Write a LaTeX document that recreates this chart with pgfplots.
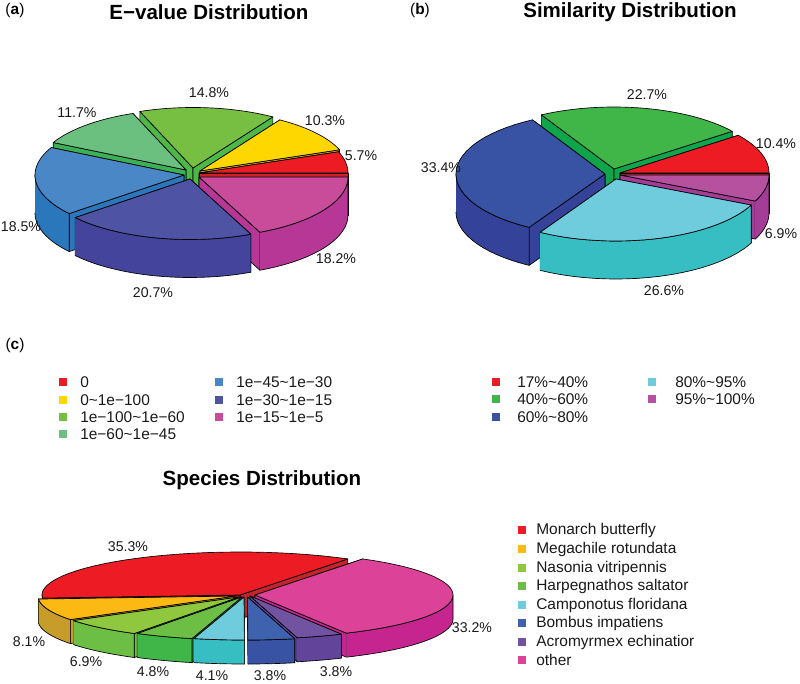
\documentclass[border=0pt]{standalone}
\usepackage{pgfplots}
\pgfplotsset{compat=1.18}
\usepackage{fontspec}
\setmainfont{Liberation Sans}
% pie parameters: rx, ry, depth, start angle
\newcommand{\setpie}[4]{\def\prx{#1}\def\pry{#2}\def\ph{#3}\def\pieoff{#4}}
% slice: cx, cy, start %, share %, side colour, top colour
\newcommand{\arcpts}[5]{% from, to, cx, cy, dy -> \arclist
  \gdef\arclist{}%
  \foreach \k in {0,...,30}{%
    \pgfmathsetmacro\tt{#1+(#2-(#1))*\k/30}%
    \pgfmathsetmacro\xx{#3+\prx*cos(\tt)}%
    \pgfmathsetmacro\yy{#4-\pry*sin(\tt)+#5}%
    \xdef\arclist{\arclist (\xx,\yy)}%
  }%
}
\newcommand{\revarcpts}[5]{%
  \gdef\revlist{}%
  \foreach \k in {30,29,...,0}{%
    \pgfmathsetmacro\tt{#1+(#2-(#1))*\k/30}%
    \pgfmathsetmacro\xx{#3+\prx*cos(\tt)}%
    \pgfmathsetmacro\yy{#4-\pry*sin(\tt)+#5}%
    \xdef\revlist{\revlist (\xx,\yy)}%
  }%
}
\newcommand{\pieslice}[6]{%
  \pgfmathsetmacro\aone{\pieoff+3.6*#3}%
  \pgfmathsetmacro\atwo{\aone+3.6*#4}%
  \pgfmathsetmacro\cyb{#2+\ph}%
  % cut faces, the one further back first
  \pgfmathsetmacro\xa{#1+\prx*cos(\aone)}\pgfmathsetmacro\ya{#2-\pry*sin(\aone)}%
  \pgfmathsetmacro\yab{\ya+\ph}%
  \pgfmathsetmacro\xb{#1+\prx*cos(\atwo)}\pgfmathsetmacro\yb{#2-\pry*sin(\atwo)}%
  \pgfmathsetmacro\ybb{\yb+\ph}%
  \edef\faceA{\noexpand\addplot[pieface,fill=#5] coordinates {(#1,#2) (\xa,\ya) (\xa,\yab) (#1,\cyb) (#1,#2)};}%
  \edef\faceB{\noexpand\addplot[pieface,fill=#5] coordinates {(#1,#2) (\xb,\yb) (\xb,\ybb) (#1,\cyb) (#1,#2)};}%
  \ifdim\ya pt<\yb pt\relax \faceA\faceB \else \faceB\faceA \fi
  % front curved side
  \pgfmathsetmacro\fone{max(\aone,180)}%
  \pgfmathsetmacro\ftwo{min(\atwo,360)}%
  \ifdim\ftwo pt>\fone pt\relax
    \arcpts{\fone}{\ftwo}{#1}{#2}{0}%
    \revarcpts{\fone}{\ftwo}{#1}{#2}{\ph}%
    \edef\tmp{\noexpand\addplot[pieface,fill=#5] coordinates {\arclist\revlist};}\tmp
  \fi
  % top
  \arcpts{\aone}{\atwo}{#1}{#2}{0}%
  \edef\tmp{\noexpand\addplot[pieface,fill=#6] coordinates {(#1,#2) \arclist (#1,#2)};}\tmp
}
\newcommand{\plab}[3]{\node[font=\fontsize{10.6}{12}\selectfont,text=black!90] at (axis cs:#1,#2) {#3\%};}
\newcommand{\legtxt}[3]{\node[anchor=west,inner sep=0pt,font=\fontsize{11.6}{13}\selectfont,text=black!90] at (axis cs:#1,#2) {#3};}
\newcommand{\legmark}[3]{\addplot[only marks,mark=square*,mark size=2.6pt,color=#1,mark options={draw=none,fill=#1}] coordinates {(#2,#3)};}
\newcommand{\ttl}[3]{\node[font=\fontsize{15.4}{18}\selectfont\bfseries] at (axis cs:#1,#2) {#3};}
\newcommand{\panel}[3]{\node[font=\fontsize{11.6}{13}\selectfont] at (axis cs:#1,#2) {(\textbf{#3})};}
\newcommand{\tl}{\textasciitilde}

\definecolor{Ared}{HTML}{ED1C24}\definecolor{Aredd}{HTML}{D01F26}
\definecolor{Ayel}{HTML}{FFD700}\definecolor{Ayeld}{HTML}{C8A62A}
\definecolor{Agrn}{HTML}{76BF43}\definecolor{Agrnd}{HTML}{4DB848}
\definecolor{Algr}{HTML}{6CC07F}\definecolor{Algrd}{HTML}{3CB054}
\definecolor{Ablu}{HTML}{4A87C7}\definecolor{Ablud}{HTML}{2A77BC}
\definecolor{Aind}{HTML}{4F53A3}\definecolor{Aindd}{HTML}{45449C}
\definecolor{Amag}{HTML}{C94C9B}\definecolor{Amagd}{HTML}{B63795}
\definecolor{Bgrn}{HTML}{40B649}\definecolor{Bgrnd}{HTML}{0FA54A}
\definecolor{Bblu}{HTML}{3853A4}\definecolor{Bblud}{HTML}{34429A}
\definecolor{Bcya}{HTML}{6ECCDD}\definecolor{Bcyad}{HTML}{37BEC3}
\definecolor{Bmag}{HTML}{B5519F}\definecolor{Bmagd}{HTML}{A43D97}
\definecolor{Credd}{HTML}{C4242B}
\definecolor{Cyel}{HTML}{FDB913}\definecolor{Cyeld}{HTML}{C69C2A}
\definecolor{Clgr}{HTML}{8FC73E}\definecolor{Clgrd}{HTML}{6CBE45}
\definecolor{Cgrn}{HTML}{6CBE45}\definecolor{Cgrnd}{HTML}{40B649}
\definecolor{Cblu}{HTML}{3E62AE}\definecolor{Cblud}{HTML}{3853A4}
\definecolor{Cpur}{HTML}{7153A2}\definecolor{Cpurd}{HTML}{62459B}
\definecolor{Cmag}{HTML}{DD4299}\definecolor{Cmagd}{HTML}{C6258F}
\pgfplotsset{pieface/.style={draw=black,line width=0.5pt,line join=round,mark=none}}
\begin{document}
\begin{tikzpicture}
\useasboundingbox (0,0) rectangle (600pt,513pt);
\begin{axis}[at={(0,0)},anchor=south west,scale only axis,width=600pt,height=513pt,
  xmin=0,xmax=800,ymin=0,ymax=684,y dir=reverse,hide axis,clip=false]
% ---- (a) E-value
\setpie{149}{60.5}{38}{0}
\pieslice{193}{168}{16}{14.8}{Agrnd}{Agrn}
\pieslice{186}{170}{30.8}{11.7}{Algrd}{Algr}
\pieslice{200}{171}{5.7}{10.3}{Ayeld}{Ayel}
\pieslice{184}{175}{42.5}{18.5}{Ablud}{Ablu}
\pieslice{199}{173}{0}{5.7}{Aredd}{Ared}
\pieslice{199}{177}{81.7}{18.3}{Amagd}{Amag}
\pieslice{190}{179}{61}{20.7}{Aindd}{Aind}
% ---- (b) Similarity
\setpie{149}{62}{38}{0}
\pieslice{614}{169}{10.4}{22.7}{Bgrnd}{Bgrn}
\pieslice{605}{174}{33.1}{33.4}{Bblud}{Bblu}
\pieslice{620}{173}{0}{10.4}{Aredd}{Ared}
\pieslice{620}{175}{93.1}{6.9}{Bmagd}{Bmag}
\pieslice{616}{179}{66.5}{26.6}{Bcyad}{Bcya}
% ---- (c) Species
\setpie{198}{43}{24}{57}
\pieslice{240}{595}{0}{35.3}{Credd}{Ared}
\pieslice{255}{595}{66.8}{33.2}{Cmagd}{Cmag}
\pieslice{236}{596}{35.3}{8.1}{Cyeld}{Cyel}
\pieslice{239}{597}{43.4}{6.9}{Clgrd}{Clgr}
\pieslice{242}{597}{50.3}{4.8}{Cgrnd}{Cgrn}
\pieslice{250}{596}{63}{3.8}{Cpurd}{Cpur}
\pieslice{247.5}{597}{59.2}{3.8}{Cblud}{Cblu}
\pieslice{244}{597}{55.1}{4.1}{Bcyad}{Bcya}
% ---- legends
\legmark{Ared}{63}{382}\legmark{Ayel}{63}{400}\legmark{Agrn}{63}{417}\legmark{Algr}{63}{434}
\legmark{Ablu}{219}{382}\legmark{Aind}{219}{400}\legmark{Amag}{219}{417}
\legmark{Ared}{496}{382}\legmark{Bgrn}{496}{399}\legmark{Bblu}{496}{417}
\legmark{Bcya}{652}{382}\legmark{Bmag}{652}{399}
\legmark{Ared}{522}{530}\legmark{Cyel}{522}{549}\legmark{Clgr}{522}{568}\legmark{Cgrn}{522}{586}
\legmark{Bcya}{522}{605}\legmark{Cblu}{522}{623}\legmark{Cpur}{522}{642}\legmark{Cmag}{522}{660}
\legtxt{80}{382}{0}
\legtxt{80}{400}{0\tl 1e−100}
\legtxt{80}{417}{1e−100\tl 1e−60}
\legtxt{80}{434}{1e−60\tl 1e−45}
\legtxt{236}{382}{1e−45\tl 1e−30}
\legtxt{236}{400}{1e−30\tl 1e−15}
\legtxt{236}{417}{1e−15\tl 1e−5}
\legtxt{517}{382}{17\%\tl 40\%}
\legtxt{517}{399}{40\%\tl 60\%}
\legtxt{517}{417}{60\%\tl 80\%}
\legtxt{675}{382}{80\%\tl 95\%}
\legtxt{675}{399}{95\%\tl 100\%}
\legtxt{536}{530}{Monarch butterfly}
\legtxt{536}{549}{Megachile rotundata}
\legtxt{536}{568}{Nasonia vitripennis}
\legtxt{536}{586}{Harpegnathos saltator}
\legtxt{536}{605}{Camponotus floridana}
\legtxt{536}{623}{Bombus impatiens}
\legtxt{536}{642}{Acromyrmex echinatior}
\legtxt{536}{660}{other}
% ---- percentage labels
\plab{209}{93}{14.8}\plab{325}{121}{10.3}\plab{361}{156}{5.7}\plab{336}{259}{18.2}
\plab{153}{293}{20.7}\plab{21}{227}{18.5}\plab{77}{113}{11.7}
\plab{647}{95}{22.7}\plab{776}{144}{10.4}\plab{781}{234}{6.9}\plab{664}{291}{26.6}\plab{441}{168}{33.4}
\plab{128}{547}{35.3}\plab{472}{628}{33.2}\plab{29}{642}{8.1}\plab{86}{662}{6.9}
\plab{153}{672}{4.8}\plab{212}{676}{4.1}\plab{270}{676}{3.8}\plab{336}{672}{3.8}
% ---- titles
\ttl{209}{12}{E−value Distribution}
\ttl{630}{12}{Similarity Distribution}
\ttl{262}{480}{Species Distribution}
\panel{15}{11}{a}\panel{420}{11}{b}\panel{15}{345}{c}
\end{axis}
\end{tikzpicture}
\end{document}
